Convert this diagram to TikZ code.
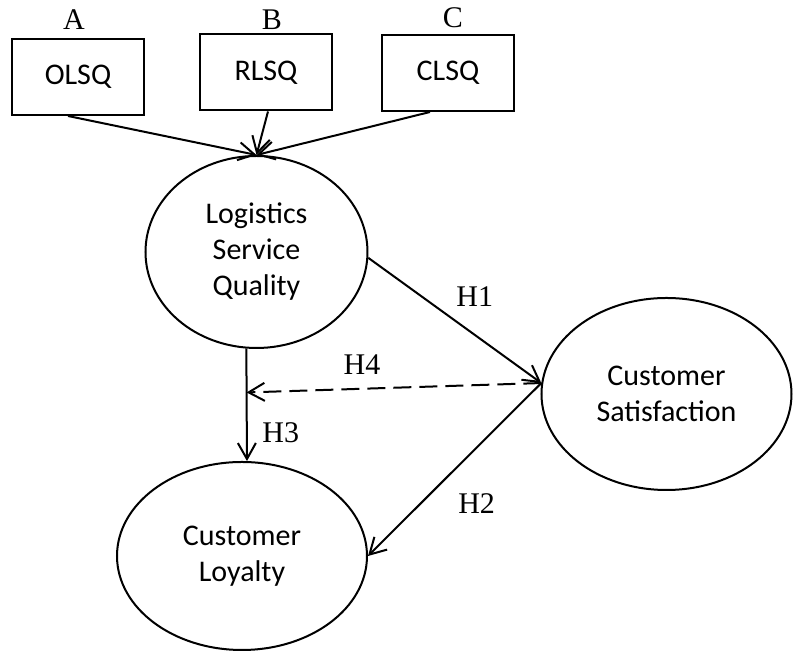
\documentclass[tikz,border=0pt]{standalone}
\usepackage{fontspec}
\setmainfont{Liberation Serif}
\newfontfamily\calibri{Carlito}
\usetikzlibrary{shapes.geometric,arrows.meta,calc,positioning}

\begin{document}
\begin{tikzpicture}[
		line width=1pt,
		>={Straight Barb[length=8pt,width=9pt]},
		latent/.style={ellipse,draw,inner sep=0pt,align=center,font=\calibri\fontsize{15}{18}\selectfont},
		indicator/.style={rectangle,draw,minimum width=66pt,minimum height=38pt,font=\calibri\fontsize{15}{18}\selectfont},
		hlabel/.style={font=\fontsize{15}{18}\selectfont}
		]
		\useasboundingbox (-128.25pt,126pt) rectangle (268.75pt,-199.5pt);
		
		\node[latent, minimum width=111pt, minimum height=96pt](LSQ){Logistics\\Service\\Quality};
		\node[latent, minimum width=125pt, minimum height=96pt, node distance = 205pt, right of = LSQ, yshift = -71pt](CS){Customer\\Satisfaction};
		\node[latent, minimum width=125pt, minimum height=94pt, node distance = 152pt, below of = LSQ, xshift = -7.25pt](CL){Customer\\Loyalty};
		
		\node[indicator, node distance = 89pt, above of = LSQ, xshift = -89.25pt, yshift = -1.5pt](OLSQ){OLSQ};
		\node[indicator, node distance = 89pt, above of = LSQ, xshift = 4.75pt, yshift = 0.75pt](RLSQ){RLSQ};
		\node[indicator, node distance = 89pt, above of = LSQ, xshift = 95.75pt, yshift = 0.5pt](CLSQ){CLSQ};
		
		\node[hlabel, node distance = 28.5pt, above of = OLSQ, xshift = -2pt](A){A};
		\node[hlabel, node distance = 26.25pt, above of = RLSQ, xshift = 3pt](B){B};
		\node[hlabel, node distance = 27.5pt, above of = CLSQ, xshift = 2.5pt](C){C};
		
		\draw[->] ([xshift=-5pt]OLSQ.south) --(LSQ.north);
		\draw[->] ([xshift=1pt]RLSQ.south) --(LSQ.north);
		\draw[->] ([xshift=-9pt]CLSQ.south) --(LSQ.north);
		
		\draw[->] (LSQ.-3) --(CS.175) node [hlabel, midway, above right, xshift=-3pt, yshift=3pt]{H1};
		\draw[->] (CS.175) --(CL.east) node [hlabel, midway, below right, xshift=-2pt, yshift=-8pt]{H2};
		\draw[->] (LSQ.264) --(CL.87) node [hlabel, near end, right, xshift=4pt]{H3};
		\coordinate (H4L) at ($(LSQ.264)!0.39!(CL.87)$);
		\draw[->, dash pattern=on 9pt off 4pt] (CS.175) --(H4L) node [hlabel, midway, above, xshift=-16pt, yshift=3pt]{H4};
	\end{tikzpicture}
\end{document}
